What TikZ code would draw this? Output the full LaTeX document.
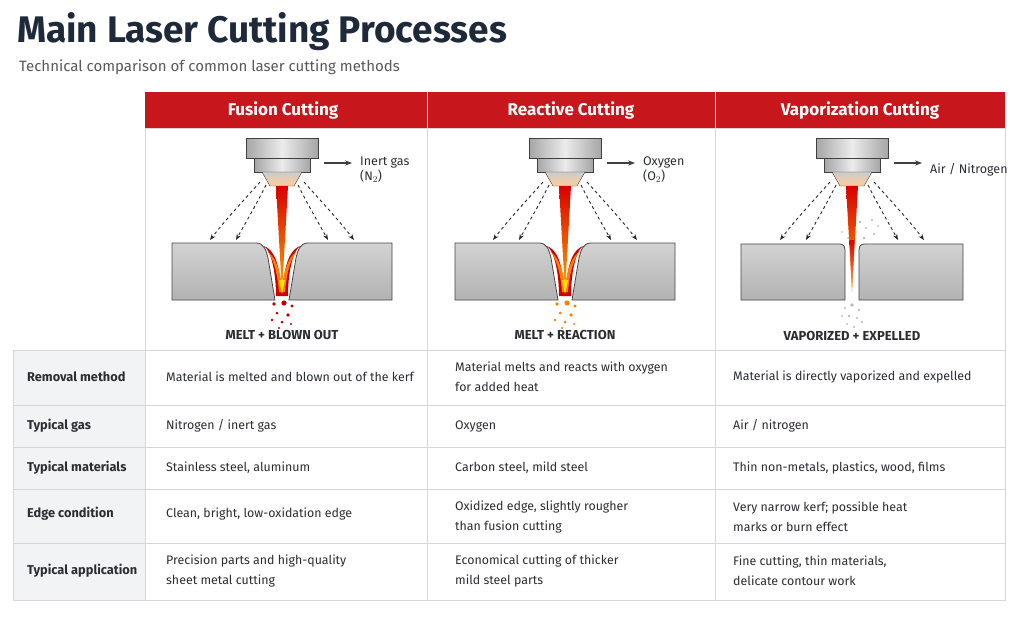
\documentclass[tikz,border=0pt]{standalone}
\usepackage{fontspec}
\setmainfont{Fira Sans}
\usepackage{tikz}
\usetikzlibrary{arrows.meta, positioning, calc}

\definecolor{hdrred}{HTML}{C8161D}
\definecolor{navy}{HTML}{1E2A3A}
\definecolor{rule}{HTML}{D4D8DD}
\definecolor{labelbg}{HTML}{F2F3F5}
\definecolor{txt}{HTML}{2A2E33}

\tikzset{
  cell/.style={anchor=west, align=left, text=txt, font=\fontsize{12.4}{20}\selectfont, inner sep=0pt},
  rowlabel/.style={cell, font=\fontsize{12.8}{20}\selectfont\bfseries},
  header/.style={text=white, font=\fontsize{17}{20}\selectfont\bfseries},
  caption/.style={text=txt, font=\fontsize{13}{14}\selectfont\bfseries},
  gaslabel/.style={anchor=west, align=left, text=txt, font=\fontsize{12.5}{15}\selectfont, inner sep=0pt},
  plate/.style={draw=gray!55!black, line width=0.8pt, top color=gray!35, bottom color=gray!60},
  gasflow/.style={dashed, gray!30!black, line width=0.9pt, -{Stealth[length=6pt]}}
}

\begin{document}
\begin{tikzpicture}[x=1pt, y=-1pt]
  \useasboundingbox (0,0) rectangle (1024,621);
  \fill[white] (0,0) rectangle (1024,621);

  % title
  \node[anchor=base west, inner sep=0pt, text=navy, font=\fontsize{37}{40}\selectfont\bfseries] (title) at (17,42) {Main Laser Cutting Processes};
  \node[anchor=base west, inner sep=0pt, text=gray!70!black, font=\fontsize{15}{18}\selectfont] (subtitle) at (19,71) {Technical comparison of common laser cutting methods};

  % table frame
  \fill[labelbg] (13,350) rectangle (145,600);
  \fill[hdrred] (145,92) rectangle (1005,128);
  \draw[rule] (145,128) rectangle (1005,350);
  \draw[rule] (13,350) rectangle (1005,600);
  \foreach \y in {405,447,489,543} \draw[rule] (13,\y) -- (1005,\y);
  \draw[rule] (145,350) -- (145,600);
  \foreach \x in {427,715} {
    \draw[white] (\x,92) -- (\x,128);
    \draw[rule] (\x,128) -- (\x,600);
  }

  % headers
  \node[header] (h1) at (283,110) {Fusion Cutting};
  \node[header] (h2) at (571,110) {Reactive Cutting};
  \node[header] (h3) at (860,110) {Vaporization Cutting};

  % nozzles, beams and gas flow
  \foreach \cx/\gas in {282/{Inert gas\\(N$_2$)}, 565/{Oxygen\\(O$_2$)}, 852/{Air / Nitrogen}} {
    \begin{scope}[shift={(\cx,0)}]
      \shade[left color=gray!70, right color=gray!70, middle color=gray!15, draw=gray!50!black]
        (-36,138) rectangle (36,158);
      \shade[left color=gray!70, right color=gray!70, middle color=gray!15, draw=gray!50!black]
        (-28,158) rectangle (28,172);
      \shade[top color=gray!40, bottom color=orange!40, draw=gray!50!black]
        (-20,172) -- (20,172) -- (12,186) -- (-12,186) -- cycle;
      \shade[top color=red!85!black, bottom color=orange!70!yellow]
        (-6,186) -- (6,186) -- (0,292) -- cycle;
      \draw[gasflow] (-22,182) .. controls (-38,200) and (-55,218) .. (-72,240);
      \draw[gasflow] (-16,185) .. controls (-26,205) and (-36,222) .. (-46,240);
      \draw[gasflow] (22,182) .. controls (38,200) and (55,218) .. (72,240);
      \draw[gasflow] (16,185) .. controls (26,205) and (36,222) .. (46,240);
      \draw[gray!50!black, line width=1.6pt, -{Stealth[length=7pt]}] (42,163) -- (70,163);
      \node[gaslabel] (gas\cx) at (78,170) {\gas};
    \end{scope}
  }

  % fusion and reactive plates with kerf
  \foreach \cx/\spark in {282/red!75!black, 565/orange} {
    \begin{scope}[shift={(\cx,0)}]
      \path[plate] (-110,243) -- (-26,243) .. controls (-18,243) and (-16,250) .. (-14,258)
        -- (-7,300) -- (-110,300) -- cycle;
      \path[plate] (110,243) -- (26,243) .. controls (18,243) and (16,250) .. (14,258)
        -- (7,300) -- (110,300) -- cycle;
      \fill[red!80!black] (-18,246) .. controls (-10,252) and (-6,275) .. (-6,296)
        -- (6,296) .. controls (6,275) and (10,252) .. (18,246)
        .. controls (8,250) and (3,262) .. (0,292) .. controls (-3,262) and (-8,250) .. cycle;
      \fill[orange] (-14,252) .. controls (-7,262) and (-4,278) .. (-3,292)
        -- (3,292) .. controls (4,278) and (7,262) .. (14,252)
        .. controls (6,258) and (2,270) .. (0,288) .. controls (-2,270) and (-6,258) .. cycle;
      \fill[yellow!80!orange] (-3,280) -- (3,280) -- (0,294) -- cycle;
      \foreach \dx/\dy/\r in {-8/304/1.8, 2/303/2.6, 10/306/1.6, -5/313/1.5, 6/315/1.8, -10/320/1.3, 0/322/1.5, 9/324/1.2, -3/328/1.2}
        \fill[\spark] (\dx,\dy) circle (\r);
    \end{scope}
  }

  % vaporization plates
  \begin{scope}[shift={(852,0)}]
    \path[plate] (-111,244) -- (-14,244) .. controls (-7,244) and (-7,246) .. (-7,254)
      -- (-7,300) -- (-111,300) -- cycle;
    \path[plate] (111,244) -- (14,244) .. controls (7,244) and (7,246) .. (7,254)
      -- (7,300) -- (111,300) -- cycle;
    \shade[top color=red!85!black, bottom color=orange!60] (-2.5,240) -- (2.5,240) -- (0,292) -- cycle;
    \foreach \dx/\dy/\r in {8/222/1.4, 14/228/1.2, 20/220/1.1, 4/232/1.2, 12/238/1.4, 22/234/1.1,
        -4/238/1.0, 18/244/1.1, -10/232/0.9, 26/226/1.0, 0/305/1.8, -7/308/1.2, 7/310/1.3,
        -3/316/1.3, 5/318/1.1, -10/316/1.0, 10/322/1.1, -5/324/1.0, 2/327/1.2}
      \fill[gray!55] (\dx,\dy) circle (\r);
  \end{scope}

  % captions
  \node[caption] (c1) at (282,335) {MELT + BLOWN OUT};
  \node[caption] (c2) at (565,335) {MELT + REACTION};
  \node[caption] (c3) at (852,336) {VAPORIZED + EXPELLED};

  % row labels
  \node[rowlabel] (r1) at (27,377) {Removal method};
  \node[rowlabel] (r2) at (27,426) {Typical gas};
  \node[rowlabel] (r3) at (27,468) {Typical materials};
  \node[rowlabel] (r4) at (27,514) {Edge condition};
  \node[rowlabel] (r5) at (27,571) {Typical application};

  % fusion column
  \node[cell] (f1) at (166,377) {Material is melted and blown out of the kerf};
  \node[cell] (f2) at (166,426) {Nitrogen / inert gas};
  \node[cell] (f3) at (166,468) {Stainless steel, aluminum};
  \node[cell] (f4) at (166,514) {Clean, bright, low-oxidation edge};
  \node[cell] (f5) at (166,571) {Precision parts and high-quality\\sheet metal cutting};

  % reactive column
  \node[cell] (x1) at (455,377) {Material melts and reacts with oxygen\\for added heat};
  \node[cell] (x2) at (455,426) {Oxygen};
  \node[cell] (x3) at (455,468) {Carbon steel, mild steel};
  \node[cell] (x4) at (455,517) {Oxidized edge, slightly rougher\\than fusion cutting};
  \node[cell] (x5) at (455,571) {Economical cutting of thicker\\mild steel parts};

  % vaporization column
  \node[cell] (v1) at (733,377) {Material is directly vaporized and expelled};
  \node[cell] (v2) at (733,426) {Air / nitrogen};
  \node[cell] (v3) at (733,468) {Thin non-metals, plastics, wood, films};
  \node[cell] (v4) at (733,517) {Very narrow kerf; possible heat\\marks or burn effect};
  \node[cell] (v5) at (733,571) {Fine cutting, thin materials,\\delicate contour work};
\end{tikzpicture}
\end{document}
